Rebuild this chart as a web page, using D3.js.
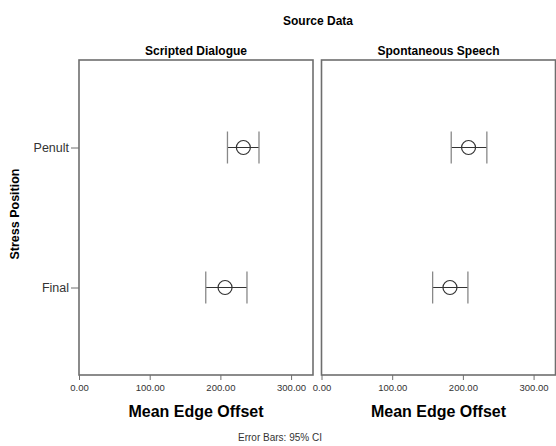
<!DOCTYPE html>
<html>
<head>
<meta charset="utf-8">
<title>Source Data</title>
<script src="https://cdn.jsdelivr.net/npm/d3@7"></script>
<style>
body{margin:0;background:#fff}
text{font-family:"Liberation Sans",Arial,sans-serif}
</style>
</head>
<body>
<svg id="chart" width="556" height="446"></svg>
<script>
//---data---
var panels=["Scripted Dialogue","Spontaneous Speech"]
var positions=["Penult","Final"]
var means=[[232.5,206.6],[208.0,181.7]]
var ciLow=[[210.0,179.3],[183.5,157.2]]
var ciHigh=[[254.6,237.6],[233.9,207.1]]
var xTicks=[0,100,200,300]

var svg=d3.select("#chart")
var panelLeft=[79,321.5]
var panelW=234
var plotTop=60, plotBottom=375

var y=d3.scalePoint()
.domain(positions)
.range([plotTop,plotBottom])
.padding(0.625)

svg.append("text")
.text("Source Data")
.attr("x",318)
.attr("y",25)
.attr("text-anchor","middle")
.attr("font-weight","bold")
.attr("font-size",12)

panels.forEach(function(name,p)
{
    var x0=panelLeft[p]
    var x=d3.scaleLinear()
    .domain([0,331])
    .range([x0,x0+panelW])

    var g=svg.append("g")

    g.append("text")
    .text(name)
    .attr("x",x0+panelW/2)
    .attr("y",55)
    .attr("text-anchor","middle")
    .attr("font-weight","bold")
    .attr("font-size",12)

    //---frame---
    g.append("rect")
    .attr("x",x0)
    .attr("y",plotTop)
    .attr("width",panelW)
    .attr("height",plotBottom-plotTop)
    .attr("fill","none")
    .attr("stroke","#6e6e6e")
    .attr("stroke-width",1.6)

    //---x axis---
    var xa=g.append("g")
    .attr("transform","translate(0,"+plotBottom+")")
    .call(d3.axisBottom(x).tickValues(xTicks).tickFormat(d3.format(".2f")).tickSize(5).tickPadding(4))
    xa.select(".domain").remove()
    xa.selectAll("line").attr("stroke","#6e6e6e")
    xa.selectAll("text").attr("font-size",9.5).attr("fill","#333")
        .attr("font-family","'Liberation Sans',Arial,sans-serif")

    g.append("text")
    .text("Mean Edge Offset")
    .attr("x",x0+panelW/2)
    .attr("y",417)
    .attr("text-anchor","middle")
    .attr("font-weight","bold")
    .attr("font-size",16)

    //---y axis on first panel---
    if(p==0)
    {
        var ya=g.append("g")
        .attr("transform","translate("+x0+",0)")
        .call(d3.axisLeft(y).tickSize(8).tickPadding(2))
        ya.select(".domain").remove()
        ya.selectAll("line").attr("stroke","#6e6e6e")
        ya.selectAll("text").attr("font-size",12.5).attr("fill","#333")
            .attr("font-family","'Liberation Sans',Arial,sans-serif")
    }

    //---error bars---
    positions.forEach(function(pos,i)
    {
        var cy=y(pos)
        var lo=x(ciLow[p][i]), hi=x(ciHigh[p][i]), m=x(means[p][i])
        g.append("line")
        .attr("x1",lo).attr("x2",hi)
        .attr("y1",cy).attr("y2",cy)
        .attr("stroke","#333")
        .attr("stroke-width",1)
        ;[lo,hi].forEach(function(cx)
        {
            g.append("line")
            .attr("x1",cx).attr("x2",cx)
            .attr("y1",cy-16).attr("y2",cy+16)
            .attr("stroke","#888")
            .attr("stroke-width",1.3)
        })
        g.append("circle")
        .attr("cx",m)
        .attr("cy",cy)
        .attr("r",7)
        .attr("fill","none")
        .attr("stroke","#333")
        .attr("stroke-width",1.2)
    })
})

svg.append("text")
.text("Stress Position")
.attr("transform","translate(19,214)rotate(-90)")
.attr("text-anchor","middle")
.attr("font-weight","bold")
.attr("font-size",12.5)

svg.append("text")
.text("Error Bars: 95% CI")
.attr("x",280)
.attr("y",441)
.attr("text-anchor","middle")
.attr("font-size",10)
.attr("fill","#333")
</script>
</body>
</html>
